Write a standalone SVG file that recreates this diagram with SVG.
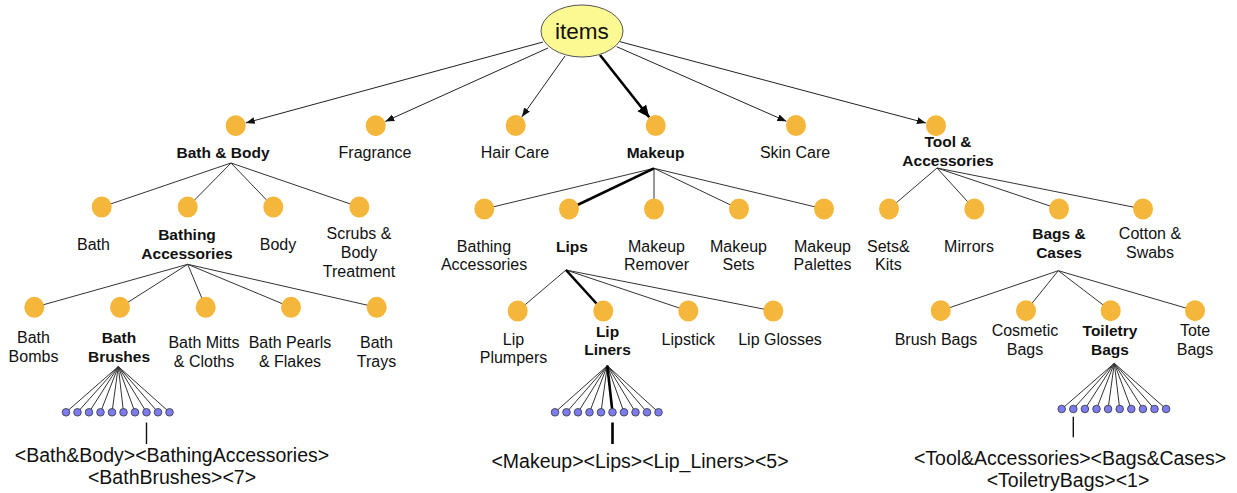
<svg xmlns="http://www.w3.org/2000/svg" width="1237" height="493" viewBox="0 0 1237 493">
<style>
text{font-family:"Liberation Sans",Arial,Helvetica,sans-serif;fill:#111;text-anchor:middle}
.l{font-size:16px}
.b{font-size:15.5px;font-weight:bold}
.p{font-size:19.5px}
.c{stroke:#333;stroke-width:1;fill:none}
.t{stroke:#000;stroke-width:2.6;fill:none}
.a{stroke:#222;stroke-width:1;fill:none}
.n{fill:#F5B73B}
.f{fill:#7C7CF0;stroke:#333;stroke-width:0.8}
.k{stroke:#111;stroke-width:1.4}
</style>
<defs>
<marker id="ar" markerUnits="userSpaceOnUse" markerWidth="10" markerHeight="8" refX="9" refY="4" orient="auto"><path d="M0,0.5 L9,4 L0,7.5 z" fill="#111"/></marker>
<marker id="arT" markerUnits="userSpaceOnUse" markerWidth="14" markerHeight="12" refX="12" refY="6" orient="auto"><path d="M0,0.5 L12,6 L0,11.5 z" fill="#000"/></marker>
</defs>
<g id="connectors">
<line class="a" x1="543" y1="42" x2="245.8" y2="122.9" marker-end="url(#ar)"/>
<line class="a" x1="548" y1="48" x2="385.3" y2="121.4" marker-end="url(#ar)"/>
<line class="a" x1="565" y1="56" x2="521.8" y2="116.9" marker-end="url(#ar)"/>
<line class="t" x1="600" y1="55" x2="649.2" y2="117.3" marker-end="url(#arT)"/>
<line class="a" x1="616.7" y1="46.7" x2="786.4" y2="121.3" marker-end="url(#ar)"/>
<line class="a" x1="620" y1="41.7" x2="925.9" y2="123" marker-end="url(#ar)"/>
<path class="c" d="M231,163 L101.7,207 M231,163 L187.7,207 M231,163 L273.3,207 M231,163 L359.3,207"/>
<path class="c" d="M187.7,264.3 L34.3,307.3 M187.7,264.3 L120,307.3 M187.7,264.3 L205.7,307.3 M187.7,264.3 L291,307.3 M187.7,264.3 L376.7,307.3"/>
<path class="c" d="M654,168.3 L484.3,209 M654,168.3 L654,209 M654,168.3 L739,209 M654,168.3 L824,209"/>
<path class="t" d="M654,168.3 L569,209"/>
<path class="c" d="M566,270 L517.7,311 M566,270 L688.3,311 M566,270 L773.3,311"/>
<path class="t" d="M566,270 L603.3,311"/>
<path class="c" d="M937,168 L889,209 M937,168 L974.3,209 M937,168 L1059,209 M937,168 L1143,209"/>
<path class="c" d="M1058.3,270.7 L940.7,310.7 M1058.3,270.7 L1026,310.7 M1058.3,270.7 L1110.7,310.7 M1058.3,270.7 L1195,310.7"/>
<path class="c" d="M118.3,366.5 L66,412.3 M118.3,366.5 L77.5,412.3 M118.3,366.5 L89,412.3 M118.3,366.5 L100.5,412.3 M118.3,366.5 L112,412.3 M118.3,366.5 L123.5,412.3 M118.3,366.5 L135,412.3 M118.3,366.5 L146.5,412.3 M118.3,366.5 L158,412.3 M118.3,366.5 L169.5,412.3"/>
<path class="c" d="M607.3,365.7 L555,412.3 M607.3,365.7 L566.5,412.3 M607.3,365.7 L578,412.3 M607.3,365.7 L589.5,412.3 M607.3,365.7 L601,412.3 M607.3,365.7 L624,412.3 M607.3,365.7 L635.5,412.3 M607.3,365.7 L647,412.3 M607.3,365.7 L658.5,412.3"/>
<path class="t" d="M607.3,365.7 L612.5,412.3"/>
<path class="c" d="M1114.3,363.3 L1061.7,409 M1114.3,363.3 L1073.3,409 M1114.3,363.3 L1084.9,409 M1114.3,363.3 L1096.5,409 M1114.3,363.3 L1108.1,409 M1114.3,363.3 L1119.7,409 M1114.3,363.3 L1131.3,409 M1114.3,363.3 L1142.9,409 M1114.3,363.3 L1154.5,409 M1114.3,363.3 L1166.1,409"/>
<line class="k" x1="146.5" y1="422.5" x2="146.5" y2="444"/>
<line class="t" x1="612.5" y1="422.5" x2="612.5" y2="444"/>
<line class="k" x1="1073.3" y1="416.7" x2="1073.3" y2="437.3"/>
</g>
<g id="items"><ellipse cx="582" cy="31" rx="41" ry="26" fill="#FCF993" stroke="#555" stroke-width="1"/><text x="582" y="39" style="font-size:22.5px">items</text></g>
<g id="bath-body"><ellipse class="n" cx="235.7" cy="125.7" rx="10" ry="10.5"/><text class="b" x="223" y="158">Bath &amp; Body</text></g>
<g id="fragrance"><ellipse class="n" cx="375.7" cy="125.7" rx="10" ry="10.5"/><text class="l" x="375" y="158">Fragrance</text></g>
<g id="hair-care"><ellipse class="n" cx="515.7" cy="125.5" rx="10" ry="10.5"/><text class="l" x="515" y="158">Hair Care</text></g>
<g id="makeup"><ellipse class="n" cx="655.7" cy="125.5" rx="10" ry="10.5"/><text class="b" x="655.5" y="158">Makeup</text></g>
<g id="skin-care"><ellipse class="n" cx="796" cy="125.5" rx="10" ry="10.5"/><text class="l" x="795" y="158">Skin Care</text></g>
<g id="tool-accessories"><ellipse class="n" cx="936" cy="125.7" rx="10" ry="10.5"/><text class="b" x="948" y="147">Tool &amp;</text><text class="b" x="948" y="165.5">Accessories</text></g>
<g id="bath"><ellipse class="n" cx="101.7" cy="207" rx="10" ry="10.5"/><text class="l" x="93.5" y="250">Bath</text></g>
<g id="bathing-accessories"><ellipse class="n" cx="187.7" cy="207" rx="10" ry="10.5"/><text class="b" x="187" y="240">Bathing</text><text class="b" x="187" y="259">Accessories</text></g>
<g id="body"><ellipse class="n" cx="273.3" cy="207" rx="10" ry="10.5"/><text class="l" x="278" y="250">Body</text></g>
<g id="scrubs"><ellipse class="n" cx="359.3" cy="207" rx="10" ry="10.5"/><text class="l" x="359" y="239">Scrubs &amp;</text><text class="l" x="359" y="258">Body</text><text class="l" x="359" y="277">Treatment</text></g>
<g id="bath-bombs"><ellipse class="n" cx="34.3" cy="307.3" rx="10" ry="10.5"/><text class="l" x="33.5" y="343.3">Bath</text><text class="l" x="33.5" y="362">Bombs</text></g>
<g id="bath-brushes"><ellipse class="n" cx="120" cy="307.3" rx="10" ry="10.5"/><text class="b" x="119" y="343.3">Bath</text><text class="b" x="119" y="362">Brushes</text></g>
<g id="bath-mitts"><ellipse class="n" cx="205.7" cy="307.3" rx="10" ry="10.5"/><text class="l" x="204" y="348.3">Bath Mitts</text><text class="l" x="204" y="366.7">&amp; Cloths</text></g>
<g id="bath-pearls"><ellipse class="n" cx="291" cy="307.3" rx="10" ry="10.5"/><text class="l" x="290" y="348.3">Bath Pearls</text><text class="l" x="290" y="366.7">&amp; Flakes</text></g>
<g id="bath-trays"><ellipse class="n" cx="376.7" cy="307.3" rx="10" ry="10.5"/><text class="l" x="376.5" y="348.3">Bath</text><text class="l" x="376.5" y="366.7">Trays</text></g>
<g id="mk-bathing-accessories"><ellipse class="n" cx="484.3" cy="209" rx="10" ry="10.5"/><text class="l" x="484" y="251.7">Bathing</text><text class="l" x="484" y="270">Accessories</text></g>
<g id="lips"><ellipse class="n" cx="569" cy="209" rx="10" ry="10.5"/><text class="b" x="572" y="251.7">Lips</text></g>
<g id="makeup-remover"><ellipse class="n" cx="654" cy="209" rx="10" ry="10.5"/><text class="l" x="656.5" y="251.7">Makeup</text><text class="l" x="656.5" y="270">Remover</text></g>
<g id="makeup-sets"><ellipse class="n" cx="739" cy="209" rx="10" ry="10.5"/><text class="l" x="738.5" y="251.7">Makeup</text><text class="l" x="738.5" y="270">Sets</text></g>
<g id="makeup-palettes"><ellipse class="n" cx="824" cy="209" rx="10" ry="10.5"/><text class="l" x="822.5" y="251.7">Makeup</text><text class="l" x="822.5" y="270">Palettes</text></g>
<g id="lip-plumpers"><ellipse class="n" cx="517.7" cy="311" rx="10" ry="10.5"/><text class="l" x="513.5" y="345">Lip</text><text class="l" x="513.5" y="363.3">Plumpers</text></g>
<g id="lip-liners"><ellipse class="n" cx="603.3" cy="311" rx="10" ry="10.5"/><text class="b" x="607.5" y="336.7">Lip</text><text class="b" x="607.5" y="355">Liners</text></g>
<g id="lipstick"><ellipse class="n" cx="688.3" cy="311" rx="10" ry="10.5"/><text class="l" x="688.3" y="345">Lipstick</text></g>
<g id="lip-glosses"><ellipse class="n" cx="773.3" cy="311" rx="10" ry="10.5"/><text class="l" x="780" y="345">Lip Glosses</text></g>
<g id="sets-kits"><ellipse class="n" cx="889" cy="209" rx="10" ry="10.5"/><text class="l" x="888.3" y="251.7">Sets&amp;</text><text class="l" x="888.3" y="270">Kits</text></g>
<g id="mirrors"><ellipse class="n" cx="974.3" cy="209" rx="10" ry="10.5"/><text class="l" x="969" y="251.7">Mirrors</text></g>
<g id="bags-cases"><ellipse class="n" cx="1059" cy="209" rx="10" ry="10.5"/><text class="b" x="1059" y="239.3">Bags &amp;</text><text class="b" x="1059" y="258.3">Cases</text></g>
<g id="cotton-swabs"><ellipse class="n" cx="1143" cy="209" rx="10" ry="10.5"/><text class="l" x="1150" y="239.3">Cotton &amp;</text><text class="l" x="1150" y="258.3">Swabs</text></g>
<g id="brush-bags"><ellipse class="n" cx="940.7" cy="310.7" rx="10" ry="10.5"/><text class="l" x="936" y="345">Brush Bags</text></g>
<g id="cosmetic-bags"><ellipse class="n" cx="1026" cy="310.7" rx="10" ry="10.5"/><text class="l" x="1025" y="336">Cosmetic</text><text class="l" x="1025" y="355">Bags</text></g>
<g id="toiletry-bags"><ellipse class="n" cx="1110.7" cy="310.7" rx="10" ry="10.5"/><text class="b" x="1110" y="336">Toiletry</text><text class="b" x="1110" y="355">Bags</text></g>
<g id="tote-bags"><ellipse class="n" cx="1195" cy="310.7" rx="10" ry="10.5"/><text class="l" x="1195" y="336">Tote</text><text class="l" x="1195" y="355">Bags</text></g>
<g id="bath-brushes-leaves">
<circle class="f" cx="66" cy="412.3" r="3.8"/><circle class="f" cx="77.5" cy="412.3" r="3.8"/><circle class="f" cx="89" cy="412.3" r="3.8"/><circle class="f" cx="100.5" cy="412.3" r="3.8"/><circle class="f" cx="112" cy="412.3" r="3.8"/><circle class="f" cx="123.5" cy="412.3" r="3.8"/><circle class="f" cx="135" cy="412.3" r="3.8"/><circle class="f" cx="146.5" cy="412.3" r="3.8"/><circle class="f" cx="158" cy="412.3" r="3.8"/><circle class="f" cx="169.5" cy="412.3" r="3.8"/>
</g>
<g id="lip-liners-leaves">
<circle class="f" cx="555" cy="412.3" r="3.8"/><circle class="f" cx="566.5" cy="412.3" r="3.8"/><circle class="f" cx="578" cy="412.3" r="3.8"/><circle class="f" cx="589.5" cy="412.3" r="3.8"/><circle class="f" cx="601" cy="412.3" r="3.8"/><circle class="f" cx="612.5" cy="412.3" r="3.8"/><circle class="f" cx="624" cy="412.3" r="3.8"/><circle class="f" cx="635.5" cy="412.3" r="3.8"/><circle class="f" cx="647" cy="412.3" r="3.8"/><circle class="f" cx="658.5" cy="412.3" r="3.8"/>
</g>
<g id="toiletry-bags-leaves">
<circle class="f" cx="1061.7" cy="409" r="3.8"/><circle class="f" cx="1073.3" cy="409" r="3.8"/><circle class="f" cx="1084.9" cy="409" r="3.8"/><circle class="f" cx="1096.5" cy="409" r="3.8"/><circle class="f" cx="1108.1" cy="409" r="3.8"/><circle class="f" cx="1119.7" cy="409" r="3.8"/><circle class="f" cx="1131.3" cy="409" r="3.8"/><circle class="f" cx="1142.9" cy="409" r="3.8"/><circle class="f" cx="1154.5" cy="409" r="3.8"/><circle class="f" cx="1166.1" cy="409" r="3.8"/>
</g>
<g id="path-bath-brushes"><text class="p" x="172" y="462">&lt;Bath&amp;Body&gt;&lt;BathingAccessories&gt;</text><text class="p" x="172" y="483.5">&lt;BathBrushes&gt;&lt;7&gt;</text></g>
<g id="path-lip-liners"><text class="p" x="640" y="468">&lt;Makeup&gt;&lt;Lips&gt;&lt;Lip_Liners&gt;&lt;5&gt;</text></g>
<g id="path-toiletry-bags"><text class="p" x="1070" y="465">&lt;Tool&amp;Accessories&gt;&lt;Bags&amp;Cases&gt;</text><text class="p" x="1068" y="487">&lt;ToiletryBags&gt;&lt;1&gt;</text></g>
</svg>
